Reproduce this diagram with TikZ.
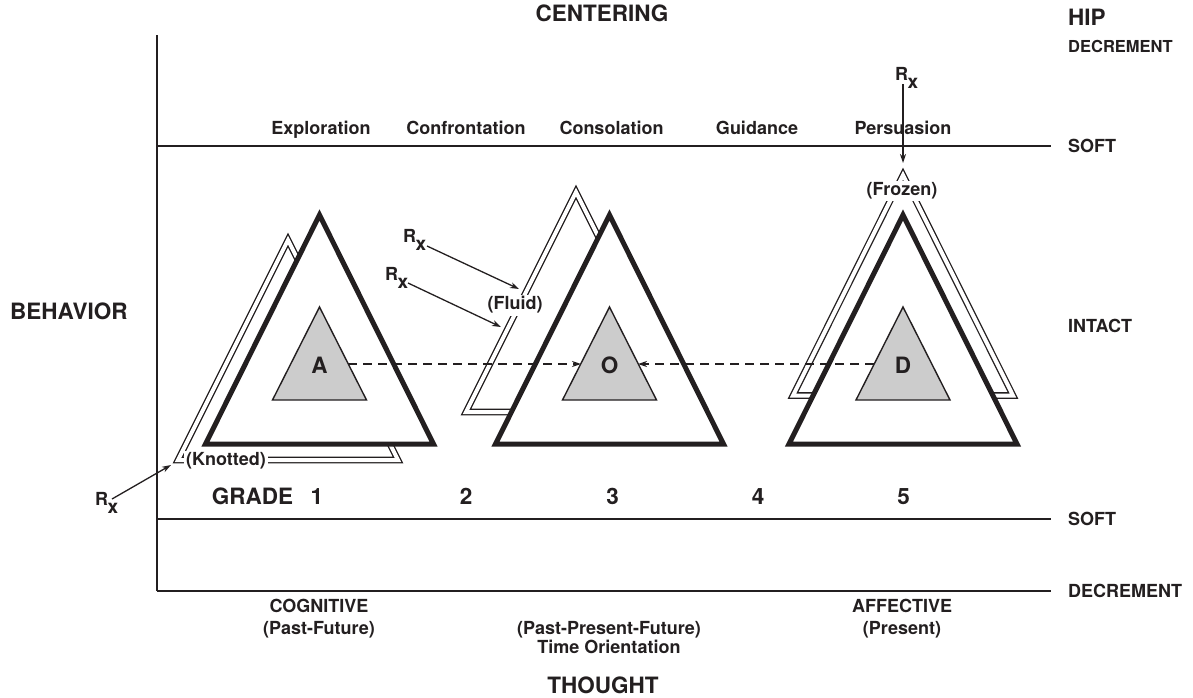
\documentclass[tikz,border=0pt]{standalone}
\usepackage{fontspec}
\setmainfont{TeX Gyre Heros}
\usetikzlibrary{arrows.meta}

\definecolor{ink}{RGB}{35,31,32}
\definecolor{coregray}{RGB}{204,204,204}

% R with a lowered x, used for each treatment marker
\newcommand{\rxmark}{R\kern-0.5pt\raisebox{-8pt}{\fontsize{19}{20}\selectfont x}}

\tikzset{
  lbl/.style={font=\fontsize{18}{20}\selectfont\bfseries, inner sep=0pt, text=ink},
  smalllbl/.style={font=\fontsize{16.5}{18}\selectfont\bfseries, inner sep=0pt, text=ink},
  biglbl/.style={font=\fontsize{22.5}{24}\selectfont\bfseries, inner sep=0pt, text=ink},
  axisline/.style={line width=1.4pt, draw=ink},
  outertri/.style={line width=5pt, draw=ink, fill=white, line join=miter},
  coretri/.style={line width=1.4pt, draw=ink, fill=coregray, line join=miter},
  ghosttri/.style={draw=ink, line width=1.3pt, double=white, double distance=4pt, line join=miter},
  rxarrow/.style={line width=1.3pt, draw=ink, -{Stealth[length=9pt,width=6pt]}},
  linkarrow/.style={line width=1.4pt, draw=ink, dash pattern=on 9pt off 6pt, -{Stealth[length=9pt,width=6pt]}},
  tag/.style={lbl, fill=white, inner sep=2pt},
}

\begin{document}
\begin{tikzpicture}[x=1pt, y=-1pt]
  \useasboundingbox (0,0) rectangle (1193,697);

  % axes and level lines
  \coordinate (axtop) at (157,35);
  \coordinate (axbot) at (157,591);
  \draw[axisline] (axtop) -- (axbot);
  \draw[axisline] (157,146) -- (1051,146);
  \draw[axisline] (157,519) -- (1051,519);
  \draw[axisline] (157,591) -- (1051,591);

  % ghost outlines behind the main triangles
  \draw[ghosttri] (288,240) -- (398,460) -- (178,460) -- cycle;
  \draw[ghosttri] (576,192) -- (686,412) -- (466,412) -- cycle;
  \draw[ghosttri] (903,175) -- (1013,395.5) -- (793,395.5) -- cycle;

  % main triangles with shaded cores
  \foreach \cx in {319.5, 609.5, 903} {
    \draw[outertri] (\cx,215) -- (\cx+114,444) -- (\cx-114,444) -- cycle;
    \draw[coretri] (\cx,307) -- (\cx+47,400) -- (\cx-47,400) -- cycle;
  }
  \node[biglbl] (nA) at (319.5,365) {A};
  \node[biglbl] (nO) at (609.5,365) {O};
  \node[biglbl] (nD) at (903,365) {D};

  % state tags
  \node[tag] (knotted) at (226,461) {(Knotted)};
  \node[tag] (fluid) at (515,305) {(Fluid)};
  \node[tag] (frozen) at (902,191) {(Frozen)};

  % links between the cores
  \coordinate (aout) at (348,364);
  \coordinate (oin) at (581,364);
  \coordinate (dout) at (874,364);
  \coordinate (oinr) at (638,364);
  \draw[linkarrow] (aout) -- (oin);
  \draw[linkarrow] (dout) -- (oinr);

  % treatment markers
  \node[lbl, anchor=base west] (rxk) at (95,505) {\rxmark};
  \node[lbl, anchor=base west] (rxf1) at (403,242) {\rxmark};
  \node[lbl, anchor=base west] (rxf2) at (385,280) {\rxmark};
  \node[lbl, anchor=base west] (rxz) at (895,80) {\rxmark};
  \coordinate (rxks) at (112,499);   \coordinate (rxke) at (171,465);
  \coordinate (rxf1s) at (427,246);  \coordinate (rxf1e) at (519,289);
  \coordinate (rxf2s) at (408,283);  \coordinate (rxf2e) at (501,327);
  \coordinate (rxzs) at (903,84);    \coordinate (rxze) at (903,163);
  \draw[rxarrow] (rxks) -- (rxke);
  \draw[rxarrow] (rxf1s) -- (rxf1e);
  \draw[rxarrow] (rxf2s) -- (rxf2e);
  \draw[rxarrow] (rxzs) -- (rxze);

  % headings
  \node[biglbl, anchor=base] (centering) at (602,21.7) {CENTERING};
  \node[biglbl, anchor=base] (thought) at (603,693) {THOUGHT};
  \node[biglbl, anchor=base west] (behavior) at (10,319.3) {BEHAVIOR};

  % right-hand scale
  \node[biglbl, anchor=base west] (hip) at (1068,25) {HIP};
  \node[smalllbl, anchor=base west] (dectop) at (1068,52) {DECREMENT};
  \node[lbl, anchor=west] (softtop) at (1068,146) {SOFT};
  \node[lbl, anchor=west] (intact) at (1068,326) {INTACT};
  \node[lbl, anchor=west] (softbot) at (1068,519) {SOFT};
  \node[lbl, anchor=west] (decbot) at (1068,591) {DECREMENT};

  % counselling modes
  \node[lbl, anchor=base] (m1) at (321,134) {Exploration};
  \node[lbl, anchor=base] (m2) at (466,134) {Confrontation};
  \node[lbl, anchor=base] (m3) at (611.5,134) {Consolation};
  \node[lbl, anchor=base] (m4) at (757,134) {Guidance};
  \node[lbl, anchor=base] (m5) at (903,134) {Persuasion};

  % grades
  \node[biglbl, anchor=base west] (grade) at (211.7,504) {GRADE};
  \node[biglbl, anchor=base] (g1) at (317,504) {1};
  \node[biglbl, anchor=base] (g2) at (466,504) {2};
  \node[biglbl, anchor=base] (g3) at (612.5,504) {3};
  \node[biglbl, anchor=base] (g4) at (758,504) {4};
  \node[biglbl, anchor=base] (g5) at (903.5,504) {5};

  % orientation captions
  \node[lbl, anchor=base] (cog) at (319,612) {COGNITIVE};
  \node[lbl, anchor=base] (cogt) at (319,634) {(Past-Future)};
  \node[lbl, anchor=base] (midt) at (609,634) {(Past-Present-Future)};
  \node[lbl, anchor=base] (midl) at (609,653) {Time Orientation};
  \node[lbl, anchor=base] (aff) at (902,612) {AFFECTIVE};
  \node[lbl, anchor=base] (afft) at (902,634) {(Present)};
\end{tikzpicture}
\end{document}
